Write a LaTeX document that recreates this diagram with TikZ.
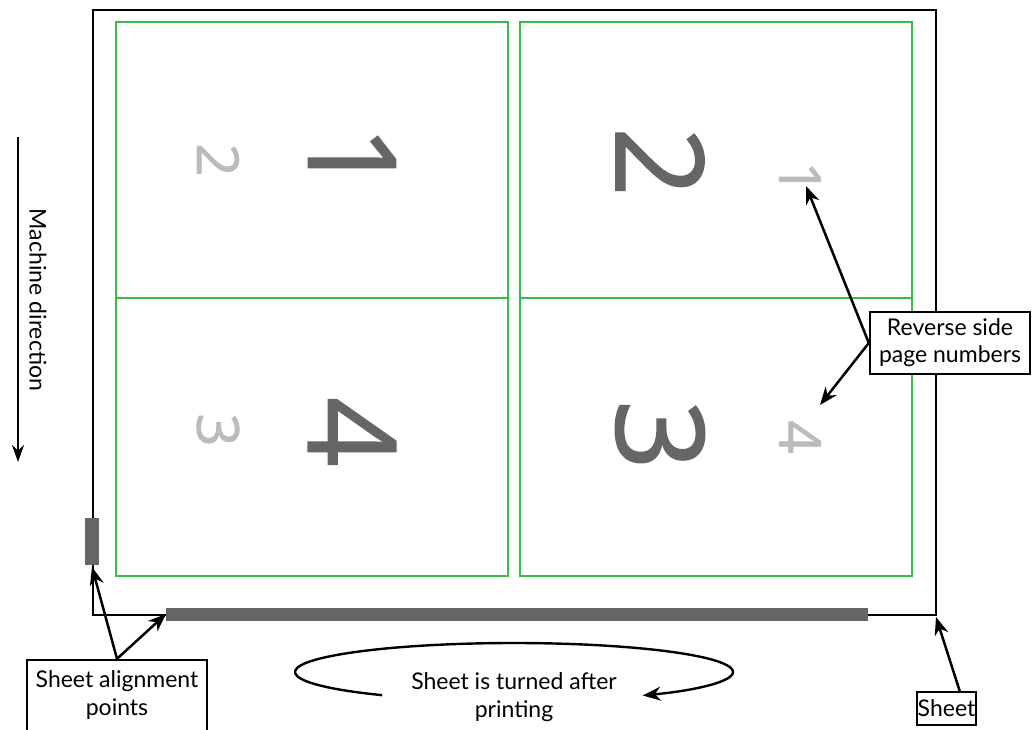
\documentclass[tikz,border=0pt]{standalone}
\usepackage{fontspec}
\setmainfont{Lato}
\newfontfamily\digitfont[FakeBold=1.2]{Open Sans}
\usetikzlibrary{arrows.meta}
\definecolor{pgreen}{HTML}{3DBB4A}
\definecolor{dgray}{HTML}{666666}
\definecolor{lgray}{HTML}{BBBBBB}
\tikzset{
  sheetline/.style={draw=black,line width=2.4pt},
  pagebox/.style={draw=pgreen,line width=2pt},
  bar/.style={fill=dgray,draw=none},
  bignum/.style={text=dgray,font=\digitfont\fontsize{122}{122}\selectfont,rotate=-90,inner sep=0pt},
  smallnum/.style={text=lgray,font=\digitfont\fontsize{58}{58}\selectfont,rotate=-90,inner sep=0pt},
  label/.style={draw=black,line width=2.4pt,fill=white,align=center,font=\fontsize{23}{27}\selectfont,inner sep=0pt},
  txt/.style={align=center,font=\fontsize{23}{28}\selectfont,inner sep=0pt},
  pointer/.style={line width=2.5pt,-{Stealth[length=18pt,width=14pt]}},
}
\begin{document}
\begin{tikzpicture}[x=1pt,y=-1pt]
\useasboundingbox (0,0) rectangle (1033,729);
\clip (0,0) rectangle (1033,729);
% sheet
\node[sheetline,minimum width=843pt,minimum height=605pt,inner sep=0pt] (sheet) at (514.5,312.5) {};
% page rectangles
\draw[pagebox] (116,22) rectangle (508,298);
\draw[pagebox] (116,298) rectangle (508,576);
\draw[pagebox] (520,22) rectangle (912,298);
\draw[pagebox] (520,298) rectangle (912,576);
% alignment bars
\node[bar,minimum width=14pt,minimum height=47pt,inner sep=0pt] (vbar) at (92,541.5) {};
\node[bar,minimum width=702pt,minimum height=13pt,inner sep=0pt] (hbar) at (517,614.5) {};
% page numbers
\node[bignum] (p1) at (352,160) {1};
\node[smallnum] (r2) at (218,160) {2};
\node[bignum] (p4) at (352,432) {4};
\node[smallnum] (r3) at (218,430) {3};
\node[bignum] (p2) at (660,162) {2};
\node[smallnum] (r1) at (800,178) {1};
\node[bignum] (p3) at (660,435) {3};
\node[smallnum] (r4) at (800,437) {4};
% machine direction
\coordinate (md1) at (18,137);
\coordinate (md2) at (18,462);
\draw[line width=2.4pt,-{Stealth[length=17pt,width=12pt]}] (md1) -- (md2);
\node[rotate=-90,font=\fontsize{23}{27}\selectfont,inner sep=0pt] (mdl) at (38,300) {Machine direction};
% labels
\node[label,minimum width=160pt,minimum height=62pt] (rev) at (950,343) {Reverse side\\page numbers};
\node[label,minimum width=180pt,minimum height=100pt] (align) at (117,710) {};
\node[txt] (alignt) at (117,695) {Sheet alignment\\points};
\node[label,minimum width=59pt,minimum height=33pt] (sh) at (946.5,708.5) {Sheet};
% pointers
\coordinate (tip1) at (806,186);
\coordinate (tip4) at (820,405);
\draw[pointer] (rev.west) -- (tip1);
\draw[pointer] (rev.west) -- (tip4);
\coordinate (ta) at (92,567);
\coordinate (tb) at (166,614);
\draw[pointer] (align.north) -- (ta);
\draw[pointer] (align.north) -- (tb);
\coordinate (ts) at (936,617);
\coordinate (shs) at (960,692);
\draw[pointer] (shs) -- (ts);
% turned
\coordinate (ec) at (514,672);
\draw[line width=2.4pt,-{Stealth[length=18pt,width=14pt]}] (ec) ++(127:219 and 29) arc[start angle=127,end angle=414,x radius=219,y radius=29];
\node[txt] (turn) at (514,697) {Sheet is turned after\\printing};
\end{tikzpicture}
\end{document}
